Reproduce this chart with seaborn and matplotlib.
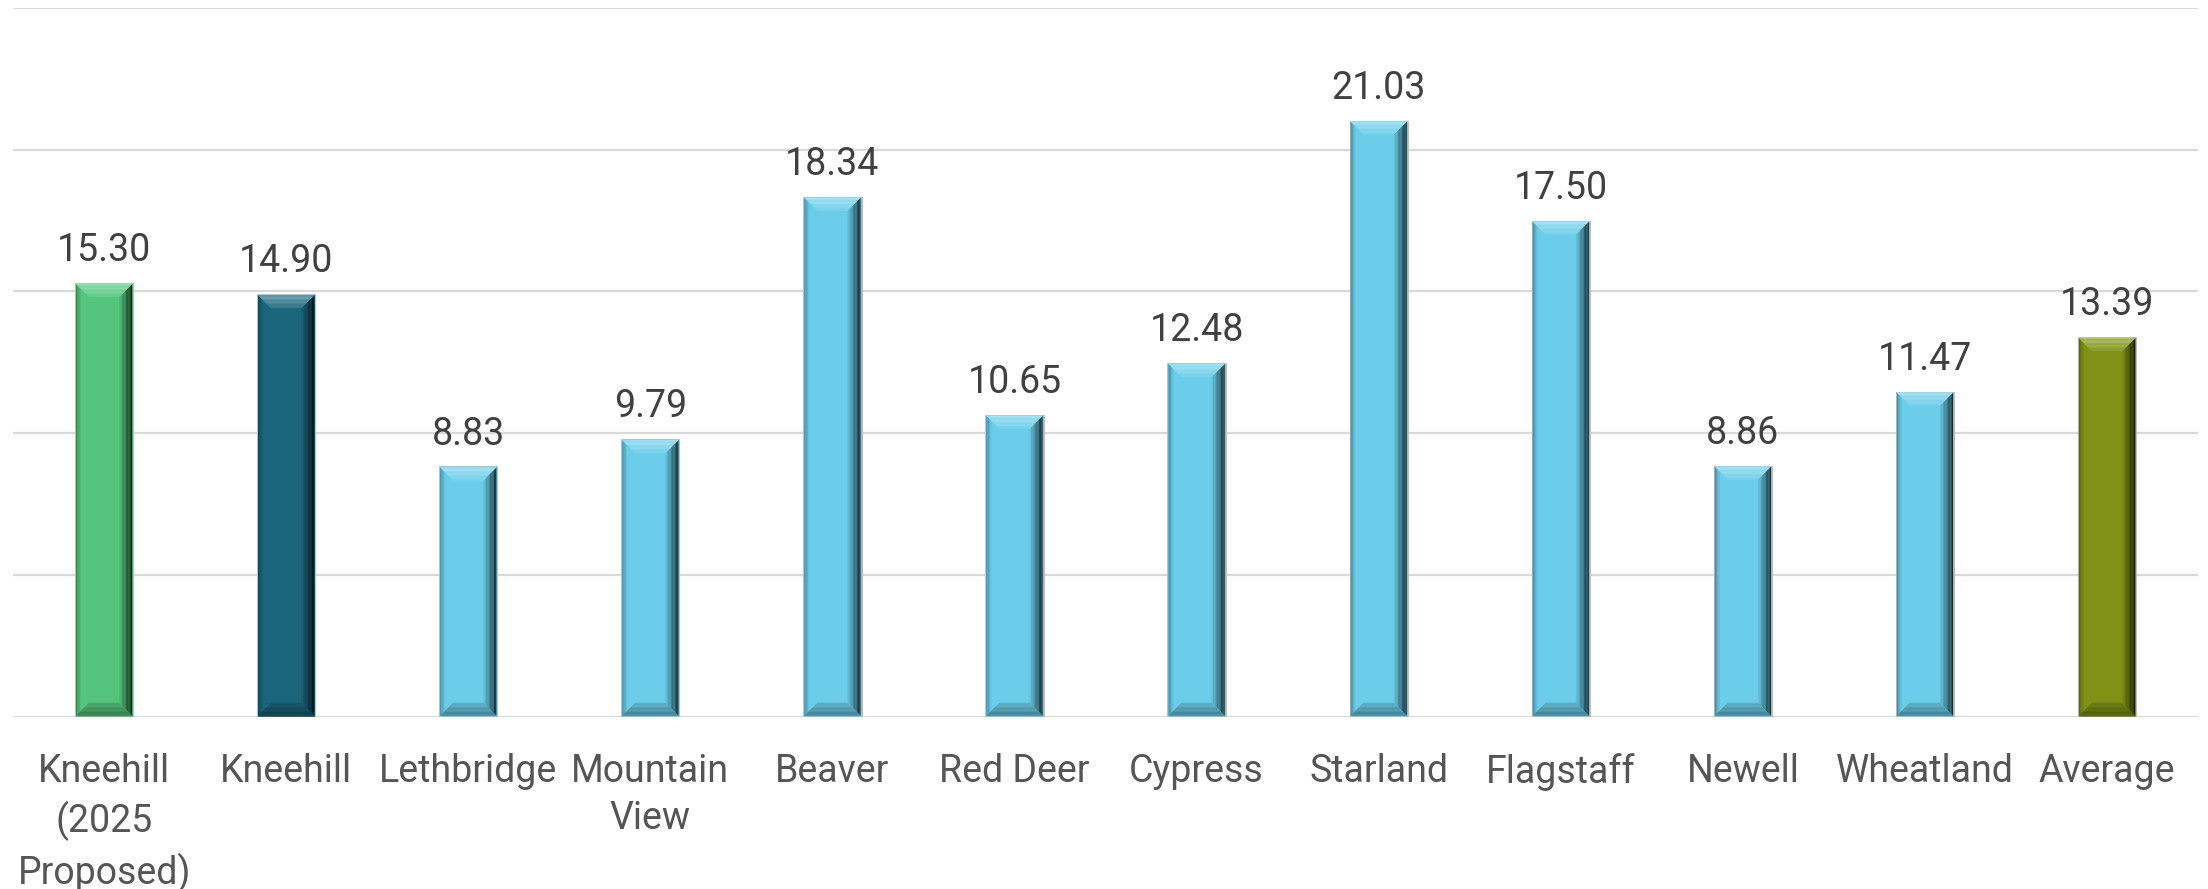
import numpy as np
import pandas as pd
import matplotlib
matplotlib.use('Agg')
import matplotlib.pyplot as plt
import matplotlib.colors as mcolors
from matplotlib.patches import Polygon
from matplotlib.transforms import IdentityTransform
import seaborn as sns

# data
categories = ['Kneehill\n(2025\nProposed)', 'Kneehill', 'Lethbridge', 'Mountain\nView',
              'Beaver', 'Red Deer', 'Cypress', 'Starland', 'Flagstaff', 'Newell',
              'Wheatland', 'Average']
values = [15.30, 14.90, 8.83, 9.79, 18.34, 10.65, 12.48, 21.03, 17.50, 8.86, 11.47, 13.39]
bar_colors = ['#55C57D', '#1B657C', '#6BCDE9', '#6BCDE9', '#6BCDE9', '#6BCDE9',
              '#6BCDE9', '#6BCDE9', '#6BCDE9', '#6BCDE9', '#6BCDE9', '#7F9215']

df = pd.DataFrame({'region': categories, 'rate': values})

sns.set_style('white')
plt.rcParams['font.family'] = ['Roboto', 'DejaVu Sans']

fig = plt.figure(figsize=(22.08, 8.89), dpi=100)
ax = fig.add_axes([0.0059, 0.1938, 0.9896, 0.7972])

sns.barplot(data=df, x='region', y='rate', hue='region', palette=bar_colors,
            legend=False, width=0.32, ax=ax, edgecolor='#c0c0c0', linewidth=0.8,
            saturation=1, zorder=3)

ax.set_ylim(0, 25)
ax.set_xlim(-0.5, len(categories) - 0.5)
ax.set_yticks(np.arange(0, 26, 5))
ax.set_yticklabels([])
ax.yaxis.grid(True, color='#d9d9d9', linewidth=1.6, zorder=0)
ax.set_axisbelow(True)
ax.set_xlabel('')
ax.set_ylabel('')
sns.despine(ax=ax, left=True, bottom=True, top=True, right=True)
ax.tick_params(axis='x', length=0, pad=26, labelsize=27, labelcolor='#555555')
ax.tick_params(axis='y', length=0)
for lab in ax.get_xticklabels():
    lab.set_linespacing(1.36)
    lab.set_verticalalignment('top')

for p, v in zip(ax.patches, values):
    ax.annotate(f'{v:.2f}', (p.get_x() + p.get_width() / 2, p.get_height()),
                xytext=(0, 10), textcoords='offset points', ha='center', va='bottom',
                fontsize=27, color='#404040')


def shade(rgb, f):
    # f < 1 darkens, f > 1 lightens toward white
    if f <= 1:
        return np.clip(rgb * f, 0, 1)
    return np.clip(rgb + (1 - rgb) * (f - 1), 0, 1)


# bevel shading on each bar, drawn in pixel coordinates over the bar
fig.canvas.draw()
renderer = fig.canvas.get_renderer()
b = 13
n = 10
for p, c in zip(ax.patches, bar_colors):
    bb = p.get_window_extent(renderer)
    x0, x1, y0, y1 = bb.x0 + 1, bb.x1 - 1, bb.y0 + 1, bb.y1 - 1
    rgb = np.array(mcolors.to_rgb(c))
    for i in range(n):
        d0 = b * i / n
        d1 = b * (i + 1) / n
        t = i / (n - 1)
        # left: darker edge fading into face
        fig.add_artist(Polygon([(x0 + d0, y0 + d0), (x0 + d1, y0 + d1),
                                (x0 + d1, y1 - d1), (x0 + d0, y1 - d0)],
                               closed=True, fc=shade(rgb, 0.7 + 0.3 * min(1, t * 2.5)), ec='none',
                               transform=IdentityTransform(), zorder=5))
        # right: face fading to near black at edge
        fig.add_artist(Polygon([(x1 - d0, y0 + d0), (x1 - d1, y0 + d1),
                                (x1 - d1, y1 - d1), (x1 - d0, y1 - d0)],
                               closed=True, fc=shade(rgb, 0.22 + 0.7 * t), ec='none',
                               transform=IdentityTransform(), zorder=5))
        # top: light
        fig.add_artist(Polygon([(x0 + d0, y1 - d0), (x1 - d0, y1 - d0),
                                (x1 - d1, y1 - d1), (x0 + d1, y1 - d1)],
                               closed=True, fc=shade(rgb, 1.42 - 0.3 * t), ec='none',
                               transform=IdentityTransform(), zorder=6))
        # bottom: darker
        fig.add_artist(Polygon([(x0 + d0, y0 + d0), (x1 - d0, y0 + d0),
                                (x1 - d1, y0 + d1), (x0 + d1, y0 + d1)],
                               closed=True, fc=shade(rgb, 0.6 + 0.25 * t), ec='none',
                               transform=IdentityTransform(), zorder=6))

fig.savefig('out.png', dpi=100)
